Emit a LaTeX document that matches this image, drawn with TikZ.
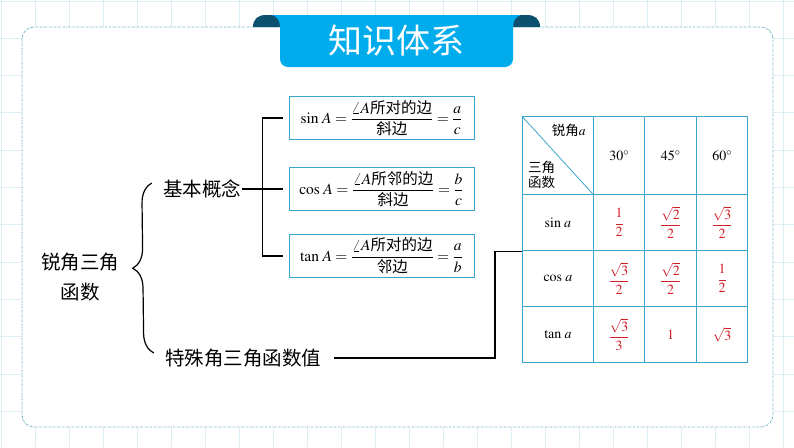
\documentclass[tikz,border=0pt]{standalone}
\usepackage{amsmath}
\usepackage{mathptmx}
\usepackage{fontspec}
\setmainfont{Liberation Serif}
\newfontfamily\cjk{Noto Sans CJK SC}
\usetikzlibrary{matrix, calc, positioning, decorations.pathreplacing}

\definecolor{ribbonblue}{RGB}{0,172,236}
\definecolor{eardark}{RGB}{12,82,112}
\definecolor{boxblue}{RGB}{60,165,205}
\definecolor{gridcol}{RGB}{222,238,244}
\definecolor{framecol}{RGB}{110,180,195}
\definecolor{valred}{RGB}{212,30,40}

\newcommand{\redval}[1]{\textcolor{valred}{$\displaystyle #1$}}

\tikzset{
  treetext/.style={font=\cjk\fontsize{19.5}{30}\selectfont, inner sep=1pt},
  defbox/.style={draw=boxblue, line width=1pt, minimum width=185pt,
    minimum height=43pt, inner sep=2pt, font=\fontsize{15.5}{19}\selectfont},
  treeline/.style={line width=1.2pt}
}

\begin{document}
\begin{tikzpicture}[x=1pt, y=-1pt]
  \useasboundingbox (0,0) rectangle (794,447);
  % background grid
  \fill[white] (0,0) rectangle (794,447);
  \foreach \x in {1,35,...,794} \draw[gridcol] (\x,0) -- (\x,447);
  \foreach \y in {0.7,38,...,447} \draw[gridcol] (0,\y) -- (794,\y);
  % frame
  \filldraw[fill=white, draw=framecol, line width=0.8pt,
    dash pattern=on 2pt off 1pt on 0.6pt off 1pt, rounded corners=12pt]
    (22,27) rectangle (773,427);

  % ribbon with the title
  \fill[eardark] (253,27) .. controls (253,19) and (258,15) .. (266,15)
    -- (280,15) -- (280,27) -- cycle;
  \fill[eardark] (540,27) .. controls (540,19) and (535,15) .. (527,15)
    -- (513,15) -- (513,27) -- cycle;
  \fill[ribbonblue] (272,15) -- (521,15) .. controls (516,16) and (513,21) .. (513,27)
    -- (280,27) .. controls (280,21) and (277,16) .. (272,15) -- cycle;
  \fill[ribbonblue, rounded corners=8pt] (280,22) -- (280,67) -- (513,67) -- (513,22);
  \node[font=\cjk\fontsize{34}{34}\selectfont, text=white] (title) at (396,41) {知识体系};

  % tree
  \node[treetext, align=center] (root) at (80,277) {锐角三角\\函数};
  \node[treetext] (bc) at (202,189) {基本概念};
  \node[treetext] (sp) at (243,358) {特殊角三角函数值};

  \node[defbox] (sinbox) at (381.5,118)
    {$\sin\,A=\dfrac{\angle A\text{\cjk 所对的边}}{\text{\cjk 斜边}}=\dfrac{a}{c}$};
  \node[defbox] (cosbox) at (381.5,189)
    {$\cos\,A=\dfrac{\angle A\text{\cjk 所邻的边}}{\text{\cjk 斜边}}=\dfrac{b}{c}$};
  \node[defbox] (tanbox) at (381.5,256)
    {$\tan\,A=\dfrac{\angle A\text{\cjk 所对的边}}{\text{\cjk 邻边}}=\dfrac{a}{b}$};

  \draw[treeline, decorate, decoration={brace, amplitude=20pt}]
    ([shift={(-10,-5)}]sp.west) -- ([shift={(-10,-6)}]bc.west);
  \coordinate (jb) at ([xshift=20pt]bc.east);
  \draw[treeline] (bc.east) -- ([xshift=-6pt]cosbox.west);
  \draw[treeline] ([xshift=-6pt]sinbox.west) -| (jb) |- ([xshift=-6pt]tanbox.west);

  % table of special values
  \matrix (mat) [matrix of nodes, nodes in empty cells, anchor=north west,
    inner sep=0pt, row sep=-1pt, column sep=-1pt,
    nodes={draw=boxblue, line width=1pt, anchor=center, inner sep=0pt,
      minimum height=56pt, minimum width=51.5pt, font=\fontsize{14}{17}\selectfont},
    column 1/.style={nodes={minimum width=71pt}},
    row 1/.style={nodes={minimum height=78pt}}
  ] at (521.7,116) {%
    & $30^\circ$ & $45^\circ$ & $60^\circ$ \\
    $\sin\,a$ & \redval{\frac{1}{2}} & \redval{\frac{\sqrt{2}}{2}} & \redval{\frac{\sqrt{3}}{2}} \\
    $\cos\,a$ & \redval{\frac{\sqrt{3}}{2}} & \redval{\frac{\sqrt{2}}{2}} & \redval{\frac{1}{2}} \\
    $\tan\,a$ & \redval{\frac{\sqrt{3}}{3}} & \redval{1} & \redval{\sqrt{3}} \\
  };
  \draw[boxblue, line width=0.8pt] (mat-1-1.north west) -- (mat-1-1.south east);
  \node[anchor=east, font=\fontsize{13.5}{15}\selectfont, inner sep=0pt] (angl)
    at ([shift={(-8,14)}]mat-1-1.north east) {{\cjk 锐角}$a$};
  \node[anchor=west, align=left, font=\cjk\fontsize{13.5}{15}\selectfont, inner sep=0pt] (fnl)
    at ([shift={(6,-20)}]mat-1-1.south west) {三角\\函数};

  \coordinate (jn) at ([xshift=-27pt]mat-2-1.south west);
  \draw[line width=1.3pt] ([xshift=12pt]sp.east) -| (jn) -- (mat-2-1.south west);
\end{tikzpicture}
\end{document}
